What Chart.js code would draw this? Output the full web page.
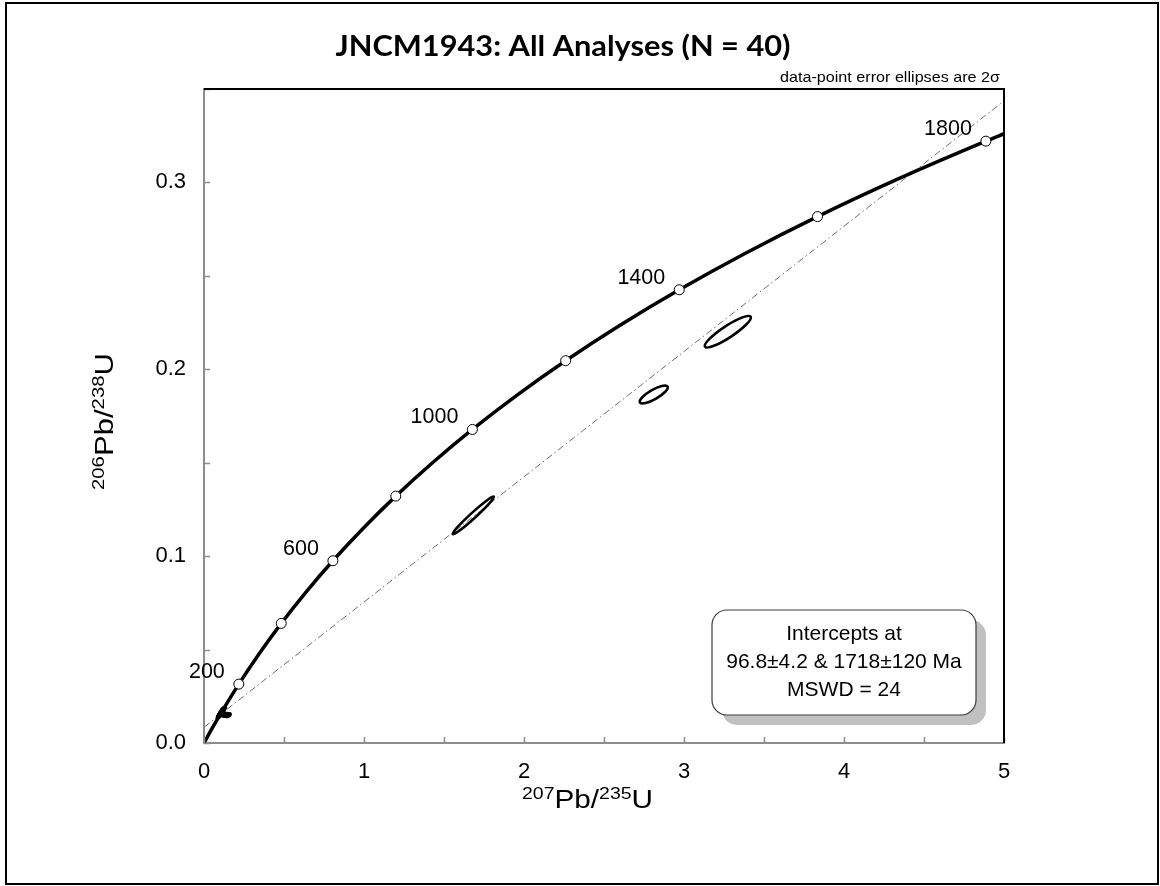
<!DOCTYPE html>
<html>
<head>
<meta charset="utf-8">
<title>JNCM1943 concordia</title>
<script src="https://cdn.jsdelivr.net/npm/chart.js@4.4.1/dist/chart.umd.min.js"></script>
<style>
  html, body { margin: 0; padding: 0; background: #fff; }
  canvas { display: block; }
</style>
</head>
<body>
<canvas id="concordia" width="1160" height="886"></canvas>
<script>
// concordia curve (age in Ma, 207Pb/235U, 206Pb/238U)
const concordiaAge = [0, 50, 100, 200, 300, 400, 500, 600, 700, 800, 900, 1000, 1100, 1200, 1300, 1400, 1500, 1600, 1700, 1800, 1820];
const concordiaX = [0, 0.0505, 0.1035, 0.2177, 0.3437, 0.4828, 0.6363, 0.8056, 0.9925, 1.1987, 1.4263, 1.6774, 1.9545, 2.2603, 2.5978, 2.9702, 3.3811, 3.8344, 4.3348, 4.8869, 5.0041];
const concordiaY = [0, 0.00779, 0.01563, 0.03151, 0.04764, 0.06401, 0.08065, 0.09754, 0.11470, 0.13212, 0.14982, 0.16780, 0.18605, 0.20459, 0.22343, 0.24255, 0.26198, 0.28171, 0.30174, 0.32209, 0.32620];

// age ticks on the curve, and the ones that get a label
const markerAges = [200, 400, 600, 800, 1000, 1200, 1400, 1600, 1800];
const labelledAges = [200, 600, 1000, 1400, 1800];

// discordia through 96.8 and 1718 Ma, across the whole plot
const discordiaX = [0, 5];
const discordiaY = [0.0084, 0.3436];

// analyses: centre, 2 sigma errors, error correlation
const ellipseX = [1.683, 2.811, 3.274,
  0.092, 0.095, 0.097, 0.098, 0.099, 0.100, 0.100, 0.101, 0.102, 0.102, 0.103, 0.104, 0.105, 0.106, 0.107, 0.108, 0.110, 0.112, 0.114, 0.116, 0.118, 0.121, 0.124,
  0.127, 0.130, 0.134, 0.138, 0.142, 0.146, 0.150,
  0.096, 0.099, 0.101, 0.103, 0.105, 0.109, 0.113];
const ellipseY = [0.1218, 0.1865, 0.2201,
  0.0140, 0.0144, 0.0147, 0.0149, 0.0150, 0.0151, 0.0153, 0.0152, 0.0154, 0.0155, 0.0156, 0.0157, 0.0158, 0.0160, 0.0162, 0.0163, 0.0166, 0.0169, 0.0172, 0.0175, 0.0178, 0.0182, 0.0186,
  0.0152, 0.0153, 0.0151, 0.0152, 0.0150, 0.0151, 0.0149,
  0.0148, 0.0147, 0.0149, 0.0150, 0.0153, 0.0155, 0.0158];
const ellipseErrX = [0.129, 0.0875, 0.144,
  0.012, 0.011, 0.013, 0.010, 0.012, 0.014, 0.011, 0.010, 0.013, 0.012, 0.011, 0.014, 0.012, 0.010, 0.013, 0.011, 0.012, 0.014, 0.011, 0.013, 0.012, 0.014, 0.013,
  0.016, 0.014, 0.017, 0.015, 0.016, 0.014, 0.017,
  0.011, 0.012, 0.010, 0.013, 0.011, 0.012, 0.013];
const ellipseErrY = [0.0101, 0.0048, 0.00846,
  0.0008, 0.0007, 0.0009, 0.0007, 0.0008, 0.0010, 0.0007, 0.0008, 0.0009, 0.0007, 0.0008, 0.0010, 0.0008, 0.0007, 0.0009, 0.0008, 0.0009, 0.0008, 0.0008, 0.0009, 0.0008, 0.0009, 0.0009,
  0.0007, 0.0008, 0.0009, 0.0007, 0.0008, 0.0008, 0.0009,
  0.0007, 0.0008, 0.0007, 0.0009, 0.0008, 0.0008, 0.0008];
const ellipseRho = [0.98, 0.8, 0.9,
  0.7, 0.6, 0.7, 0.6, 0.7, 0.6, 0.7, 0.6, 0.7, 0.6, 0.7, 0.6, 0.7, 0.6, 0.7, 0.6, 0.7, 0.6, 0.7, 0.6, 0.7, 0.6, 0.7,
  0.5, 0.4, 0.5, 0.4, 0.5, 0.4, 0.5,
  0.6, 0.7, 0.6, 0.7, 0.6, 0.7, 0.6];

const titleText = "JNCM1943: All Analyses (N = 40)";
const noteText = "data-point error ellipses are 2\u03c3";
const interceptLines = ["Intercepts at", "96.8\u00b14.2 & 1718\u00b1120 Ma", "MSWD = 24"];

const ARIAL = "'Liberation Sans', Arial, sans-serif";

function pointsOf(xs, ys) {
  return xs.map((x, i) => ({ x: x, y: ys[i] }));
}

const markerData = markerAges.map(age => {
  const i = concordiaAge.indexOf(age);
  return { x: concordiaX[i], y: concordiaY[i], age: age };
});

// text squeezed or stretched sideways to a given width
function fitText(ctx, text, x, y, width, align) {
  const w = ctx.measureText(text).width;
  const k = width / w;
  ctx.save();
  ctx.translate(x, y);
  ctx.scale(k, 1);
  ctx.textAlign = align;
  ctx.fillText(text, 0, 0);
  ctx.restore();
}

// "206Pb/238U" style label starting at (0,0), fitted to a length
function isotopeLabel(ctx, parts, length) {
  let total = 0;
  parts.forEach(p => {
    ctx.font = p.sup ? "17px " + ARIAL : "26px " + ARIAL;
    total += ctx.measureText(p.t).width;
  });
  const k = length / total;
  ctx.scale(k, 1);
  let x = 0;
  ctx.textAlign = "left";
  ctx.textBaseline = "alphabetic";
  parts.forEach(p => {
    ctx.font = p.sup ? "17px " + ARIAL : "26px " + ARIAL;
    ctx.fillText(p.t, x, p.sup ? -9 : 0);
    x += ctx.measureText(p.t).width;
  });
}

function drawErrorEllipse(ctx, xs, ys, cx, cy, ex, ey, rho) {
  const px = xs.getPixelForValue(cx);
  const py = ys.getPixelForValue(cy);
  const a = ex * (xs.getPixelForValue(1) - xs.getPixelForValue(0));
  const b = ey * (ys.getPixelForValue(0) - ys.getPixelForValue(1));
  const c = -rho * a * b; // pixel y runs downwards
  const diff = a * a - b * b;
  const root = Math.sqrt(diff * diff + 4 * c * c);
  const major = Math.sqrt((a * a + b * b + root) / 2);
  const minor = Math.sqrt(Math.max((a * a + b * b - root) / 2, 0));
  const angle = 0.5 * Math.atan2(2 * c, diff);
  ctx.beginPath();
  ctx.ellipse(px, py, major, minor, angle, 0, Math.PI * 2);
  ctx.stroke();
}

function roundRect(ctx, x, y, w, h, r) {
  ctx.beginPath();
  ctx.moveTo(x + r, y);
  ctx.arcTo(x + w, y, x + w, y + h, r);
  ctx.arcTo(x + w, y + h, x, y + h, r);
  ctx.arcTo(x, y + h, x, y, r);
  ctx.arcTo(x, y, x + w, y, r);
  ctx.closePath();
}

const ellipsePlugin = {
  id: "errorEllipses",
  afterDatasetsDraw(chart) {
    const { ctx, chartArea: area, scales } = chart;
    ctx.save();
    ctx.beginPath();
    ctx.rect(area.left, area.top, area.right - area.left, area.bottom - area.top);
    ctx.clip();
    ctx.strokeStyle = "#000";
    ctx.lineWidth = 2.6;
    for (let i = 0; i < ellipseX.length; i++) {
      drawErrorEllipse(ctx, scales.x, scales.y, ellipseX[i], ellipseY[i], ellipseErrX[i], ellipseErrY[i], ellipseRho[i]);
    }
    ctx.restore();

    // age labels beside the curve ticks
    ctx.save();
    ctx.fillStyle = "#000";
    ctx.font = "21.5px " + ARIAL;
    ctx.textAlign = "right";
    ctx.textBaseline = "middle";
    markerData.filter(m => labelledAges.includes(m.age)).forEach(m => {
      const px = scales.x.getPixelForValue(m.x);
      const py = scales.y.getPixelForValue(m.y);
      ctx.fillText(String(m.age), px - 14, py - 12);
    });
    ctx.restore();
  }
};

const framePlugin = {
  id: "frame",
  afterDraw(chart) {
    const { ctx, chartArea: area, scales } = chart;
    ctx.save();

    // inward ticks
    ctx.strokeStyle = "#8c8c8c";
    ctx.lineWidth = 1.5;
    ctx.beginPath();
    scales.x.ticks.forEach(t => {
      const p = Math.round(scales.x.getPixelForValue(t.value)) + 0.5;
      ctx.moveTo(p, area.bottom);
      ctx.lineTo(p, area.bottom - 6);
    });
    scales.y.ticks.forEach(t => {
      const p = Math.round(scales.y.getPixelForValue(t.value)) + 0.5;
      ctx.moveTo(area.left, p);
      ctx.lineTo(area.left + 6, p);
    });
    ctx.stroke();

    // top and right edges of the plot
    ctx.strokeStyle = "#000";
    ctx.lineWidth = 2;
    ctx.beginPath();
    ctx.moveTo(area.left, area.top);
    ctx.lineTo(area.right, area.top);
    ctx.lineTo(area.right, area.bottom);
    ctx.stroke();

    // title and note
    ctx.fillStyle = "#000";
    ctx.textBaseline = "alphabetic";
    ctx.font = "bold 29px Lato, 'Open Sans', sans-serif";
    fitText(ctx, titleText, 563, 56, 455, "center");
    ctx.font = "15px 'Liberation Sans Narrow', " + ARIAL;
    fitText(ctx, noteText, 1000, 82, 220, "right");

    // axis titles
    ctx.save();
    ctx.translate(522, 808);
    isotopeLabel(ctx, [{ t: "207", sup: true }, { t: "Pb/" }, { t: "235", sup: true }, { t: "U" }], 131);
    ctx.restore();
    ctx.save();
    ctx.translate(113, 490);
    ctx.rotate(-Math.PI / 2);
    isotopeLabel(ctx, [{ t: "206", sup: true }, { t: "Pb/" }, { t: "238", sup: true }, { t: "U" }], 137);
    ctx.restore();

    // intercept box with its shadow
    const bx = 712, by = 610, bw = 264, bh = 105;
    ctx.fillStyle = "#c0c0c0";
    roundRect(ctx, bx + 10, by + 10, bw, bh, 15);
    ctx.fill();
    ctx.fillStyle = "#fff";
    ctx.strokeStyle = "#3c3c3c";
    ctx.lineWidth = 1.2;
    roundRect(ctx, bx, by, bw, bh, 15);
    ctx.fill();
    ctx.stroke();
    ctx.fillStyle = "#000";
    ctx.font = "21px " + ARIAL;
    ctx.textAlign = "center";
    ctx.textBaseline = "middle";
    interceptLines.forEach((line, i) => {
      ctx.fillText(line, bx + bw / 2, by + 24 + i * 28);
    });

    // frame round the whole figure
    ctx.strokeStyle = "#000";
    ctx.lineWidth = 2;
    ctx.strokeRect(6, 3, 1152, 881);
    ctx.restore();
  }
};

Chart.defaults.font.family = ARIAL;
Chart.defaults.color = "#000";

new Chart(document.getElementById("concordia"), {
  type: "scatter",
  data: {
    datasets: [
      {
        label: "ages",
        data: markerData,
        pointRadius: 5,
        pointBackgroundColor: "#fff",
        pointBorderColor: "#000",
        pointBorderWidth: 1
      },
      {
        label: "concordia",
        data: pointsOf(concordiaX, concordiaY),
        showLine: true,
        borderColor: "#000",
        borderWidth: 3.5,
        pointRadius: 0,
        cubicInterpolationMode: "monotone",
        clip: 0
      },
      {
        label: "discordia",
        data: pointsOf(discordiaX, discordiaY),
        showLine: true,
        borderColor: "#6e6e6e",
        borderWidth: 1,
        borderDash: [7, 3, 1.5, 3],
        pointRadius: 0,
        clip: 0
      }
    ]
  },
  options: {
    responsive: false,
    animation: false,
    layout: { padding: { left: 0, top: 89, right: 156, bottom: 0 } },
    plugins: {
      legend: { display: false },
      tooltip: { enabled: false }
    },
    scales: {
      x: {
        type: "linear",
        min: 0,
        max: 5,
        afterFit(scale) { scale.height = 143; },
        border: { color: "#8c8c8c", width: 2 },
        grid: { display: true, drawOnChartArea: false, drawTicks: false },
        ticks: {
          stepSize: 0.5,
          autoSkip: false,
          maxRotation: 0,
          padding: 16,
          font: { size: 22 },
          callback: v => (Math.abs(v - Math.round(v)) < 1e-6 ? String(Math.round(v)) : "")
        }
      },
      y: {
        type: "linear",
        min: 0,
        max: 0.35,
        afterFit(scale) { scale.width = 204; },
        border: { color: "#8c8c8c", width: 2 },
        grid: { display: true, drawOnChartArea: false, drawTicks: false },
        ticks: {
          stepSize: 0.05,
          autoSkip: false,
          padding: 18,
          font: { size: 22 },
          callback: v => (Math.abs(v * 10 - Math.round(v * 10)) < 1e-6 ? v.toFixed(1) : "")
        }
      }
    }
  },
  plugins: [ellipsePlugin, framePlugin]
});
</script>
</body>
</html>
